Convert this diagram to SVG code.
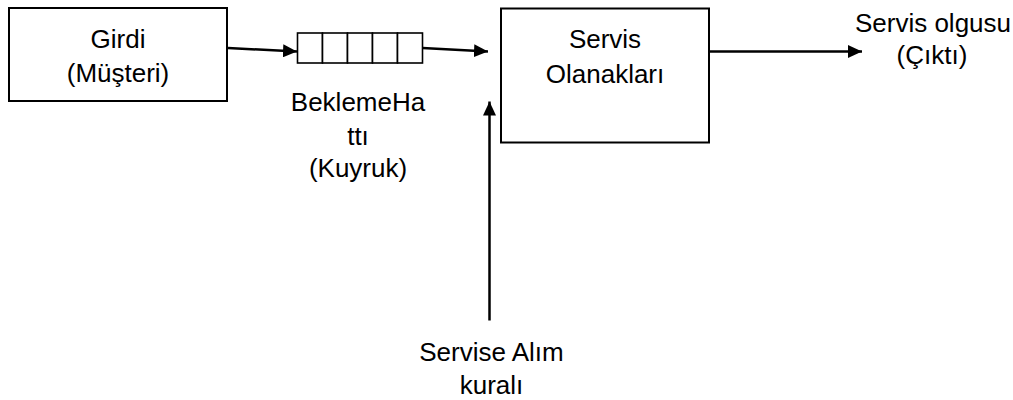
<svg xmlns="http://www.w3.org/2000/svg" width="1013" height="400" viewBox="0 0 1013 400">
<style>
  .box { fill: #ffffff; stroke: #000000; stroke-width: 2; }
  .cell { fill: #ffffff; stroke: #000000; stroke-width: 1.6; }
  .conn { fill: none; stroke: #000000; stroke-width: 2.5; }
  text { font-family: "Liberation Sans", Arial, sans-serif; font-size: 26px; fill: #000000; text-anchor: middle; }
</style>
<defs>
  <marker id="arrow" markerUnits="userSpaceOnUse" markerWidth="14" markerHeight="13" refX="14" refY="6.5" orient="auto">
    <path d="M0,0 L14,6.5 L0,13 z" fill="#000000"/>
  </marker>
</defs>
<rect width="1013" height="400" fill="#ffffff"/>
<g id="girdi">
  <rect class="box" x="9" y="8" width="218" height="93"/>
  <text x="118" y="47.5">Girdi</text>
  <text x="118" y="81.5">(Müşteri)</text>
</g>
<g id="kuyruk">
  <rect class="cell" x="297.5" y="33" width="25" height="30"/>
  <rect class="cell" x="322.5" y="33" width="25" height="30"/>
  <rect class="cell" x="347.5" y="33" width="25" height="30"/>
  <rect class="cell" x="372.5" y="33" width="25" height="30"/>
  <rect class="cell" x="397.5" y="33" width="25" height="30"/>
  <text x="358" y="111">BeklemeHa</text>
  <text x="358" y="145">ttı</text>
  <text x="358" y="177">(Kuyruk)</text>
</g>
<g id="servis">
  <rect class="box" x="501" y="8.5" width="208" height="134"/>
  <text x="605" y="48">Servis</text>
  <text x="605" y="83">Olanakları</text>
</g>
<g id="cikti">
  <text x="933" y="32">Servis olgusu</text>
  <text x="932" y="64">(Çıktı)</text>
</g>
<g id="kural">
  <text x="491.5" y="361">Servise Alım</text>
  <text x="491.5" y="394">kuralı</text>
</g>
<g id="connectors">
  <line class="conn" x1="228" y1="48" x2="297" y2="51.5" marker-end="url(#arrow)"/>
  <line class="conn" x1="422.5" y1="48" x2="488" y2="51.5" marker-end="url(#arrow)"/>
  <line class="conn" x1="709" y1="51.5" x2="862" y2="51.5" marker-end="url(#arrow)"/>
  <line class="conn" x1="489.5" y1="320.5" x2="489.5" y2="101.5" marker-end="url(#arrow)"/>
</g>
</svg>
